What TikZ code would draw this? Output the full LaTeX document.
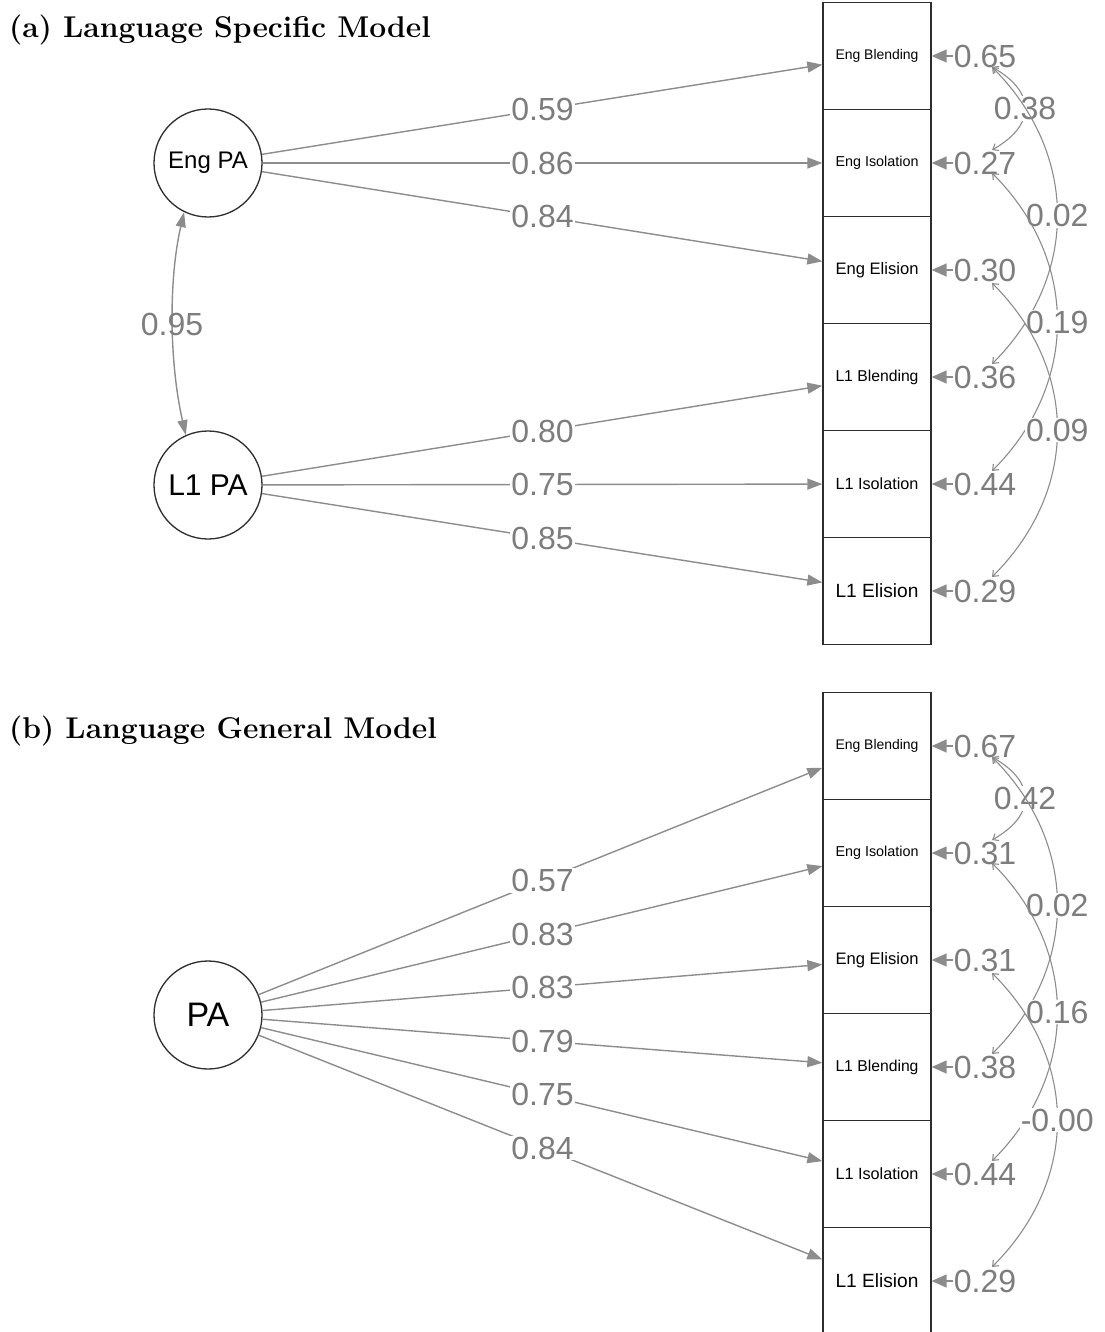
\documentclass[tikz,border=0pt]{standalone}
\usepackage{fontspec}
\usepackage{graphicx}
\newfontfamily\arial{Liberation Sans}
\usetikzlibrary{arrows.meta,calc}

\definecolor{pathgray}{RGB}{140,140,140}
\definecolor{labelgray}{RGB}{125,125,125}
\definecolor{framegray}{RGB}{45,45,45}

% observed-variable text is scaled to a common width
\newcommand\boxlabel[1]{\resizebox{83pt}{!}{\arial #1}}

\tikzset{
  x=1pt, y=-1pt,
  latent/.style={circle, draw=framegray, line width=1.3pt, minimum size=108pt, inner sep=0pt},
  manifest/.style={rectangle, draw=framegray, line width=1.3pt, minimum width=108pt, minimum height=107pt, inner sep=0pt},
  loading/.style={draw=pathgray, line width=1.4pt, -{Triangle[length=15pt,width=11pt]}},
  numlabel/.style={fill=white, text=labelgray, font=\arial\fontsize{32}{32}\selectfont, inner sep=1pt},
  freelabel/.style={text=labelgray, font=\arial\fontsize{32}{32}\selectfont, inner sep=1pt},
  resid/.style={draw=pathgray, line width=1.4pt, -{Triangle[length=15pt,width=13pt]}},
  latcov/.style={draw=pathgray, line width=1.4pt, {Triangle[length=15pt,width=10pt]}-{Triangle[length=15pt,width=10pt]}},
  rescov/.style={draw=pathgray, line width=1.1pt, {Straight Barb[length=5pt,width=8pt]}-{Straight Barb[length=5pt,width=8pt]}},
  paneltitle/.style={anchor=base west, font=\fontsize{30}{32}\selectfont\bfseries, inner sep=0pt}
}

\begin{document}
\begin{tikzpicture}
\useasboundingbox (0,0) rectangle (1104,1332);
\clip (0,0) rectangle (1104,1332);

% ---------------- (a) language specific model ----------------
\node[paneltitle] (ta) at (9,38) {(a) Language Specific Model};

\node[latent] (engpa) at (208,163) {\arial\fontsize{24}{24}\selectfont Eng PA};
\node[latent] (lonepa) at (208,485) {\arial\fontsize{30}{30}\selectfont L1 PA};

\node[manifest] (aEB) at (877,56)  {\boxlabel{Eng Blending}};
\node[manifest] (aEI) at (877,163) {\boxlabel{Eng Isolation}};
\node[manifest] (aEE) at (877,270) {\boxlabel{Eng Elision}};
\node[manifest] (aLB) at (877,377) {\boxlabel{L1 Blending}};
\node[manifest] (aLI) at (877,484) {\boxlabel{L1 Isolation}};
\node[manifest] (aLE) at (877,591) {\boxlabel{L1 Elision}};

% factor loadings
\foreach \f/\m/\v in {engpa/aEB/0.59, engpa/aEI/0.86, engpa/aEE/0.84,
                      lonepa/aLB/0.80, lonepa/aLI/0.75, lonepa/aLE/0.85}{
  \draw[loading] (\f) -- (\m);
  \node[numlabel] at ($(\f)!0.5!(\m)$) {\v};
}

% factor correlation
\coordinate (ca1) at (engpa.244);
\coordinate (ca2) at (lonepa.114);
\draw[latcov] (ca1) .. controls +(-16,70) and +(-16,-70) .. (ca2);
\node[freelabel] (r95) at (172,324) {0.95};

% residual variances
\foreach \m/\r/\v in {aEB/raEB/0.65, aEI/raEI/0.27, aEE/raEE/0.30,
                      aLB/raLB/0.36, aLI/raLI/0.44, aLE/raLE/0.29}{
  \node[numlabel, fill=none] (\r) at ($(\m)+(108,0)$) {\v};
  \draw[resid] (\r.west) -- (\m.east);
}

% residual covariances
\draw[rescov] ($(raEB)+(7,11)$) .. controls +(44,25) and +(44,-25) .. ($(raEI)+(7,-13)$)
  node[numlabel, pos=0.5] {0.38};
\draw[rescov] ($(raEB)+(7,11)$) .. controls +(87,87) and +(87,-87) .. ($(raLB)+(7,-13)$)
  node[numlabel, pos=0.5] {0.02};
\draw[rescov] ($(raEI)+(7,10)$) .. controls +(87,87) and +(87,-87) .. ($(raLI)+(7,-13)$)
  node[numlabel, pos=0.5] {0.19};
\draw[rescov] ($(raEE)+(7,13)$) .. controls +(87,87) and +(87,-87) .. ($(raLE)+(7,-14)$)
  node[numlabel, pos=0.5] {0.09};

% ---------------- (b) language general model ----------------
\node[paneltitle] (tb) at (9,738) {(b) Language General Model};

\node[latent] (pa) at (208,1015) {\arial\fontsize{34}{34}\selectfont PA};

\node[manifest] (bEB) at (877,746)  {\boxlabel{Eng Blending}};
\node[manifest] (bEI) at (877,853)  {\boxlabel{Eng Isolation}};
\node[manifest] (bEE) at (877,960)  {\boxlabel{Eng Elision}};
\node[manifest] (bLB) at (877,1067) {\boxlabel{L1 Blending}};
\node[manifest] (bLI) at (877,1174) {\boxlabel{L1 Isolation}};
\node[manifest] (bLE) at (877,1281) {\boxlabel{L1 Elision}};

\foreach \m/\v in {bEB/0.57, bEI/0.83, bEE/0.83, bLB/0.79, bLI/0.75, bLE/0.84}{
  \draw[loading] (pa) -- (\m);
  \node[numlabel] at ($(pa)!0.5!(\m)$) {\v};
}

\foreach \m/\r/\v in {bEB/rbEB/0.67, bEI/rbEI/0.31, bEE/rbEE/0.31,
                      bLB/rbLB/0.38, bLI/rbLI/0.44, bLE/rbLE/0.29}{
  \node[numlabel, fill=none] (\r) at ($(\m)+(108,0)$) {\v};
  \draw[resid] (\r.west) -- (\m.east);
}

\draw[rescov] ($(rbEB)+(7,11)$) .. controls +(44,25) and +(44,-25) .. ($(rbEI)+(7,-13)$)
  node[numlabel, pos=0.5] {0.42};
\draw[rescov] ($(rbEB)+(7,11)$) .. controls +(87,87) and +(87,-87) .. ($(rbLB)+(7,-13)$)
  node[numlabel, pos=0.5] {0.02};
\draw[rescov] ($(rbEI)+(7,10)$) .. controls +(87,87) and +(87,-87) .. ($(rbLI)+(7,-13)$)
  node[numlabel, pos=0.5] {0.16};
\draw[rescov] ($(rbEE)+(7,13)$) .. controls +(87,87) and +(87,-87) .. ($(rbLE)+(7,-14)$)
  node[numlabel, pos=0.5] {-0.00};
\end{tikzpicture}
\end{document}
